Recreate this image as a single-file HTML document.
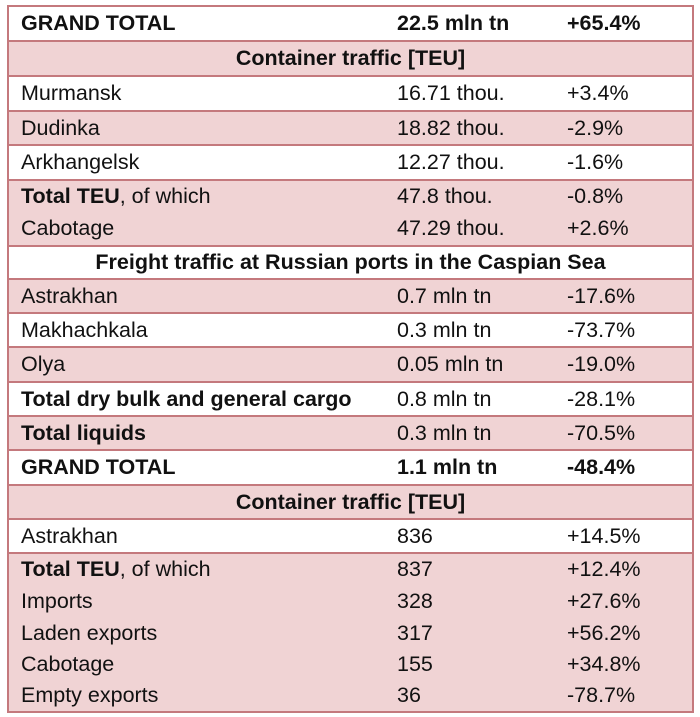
<!DOCTYPE html>
<html><head><meta charset="utf-8"><style>
body{margin:0;width:700px;height:717px;background:#fff;position:relative;font-family:"Liberation Sans",sans-serif;color:#111;overflow:hidden}
.tbl{position:absolute;left:7px;top:5px;width:683px;height:704px;border:2px solid #c4797d;box-sizing:content-box}
.r{position:absolute;left:0;width:683px;font-size:21.5px;display:flex;align-items:center}
.w{background:#fff}.p{background:#f0d3d4}
.bt{border-top:2px solid #c4797d;box-sizing:border-box}
.c1{position:absolute;left:12px}.c2{position:absolute;left:388px}.c3{position:absolute;left:558px}
.b{font-weight:bold}
.h{justify-content:center;font-weight:bold;width:683px}
</style></head><body>
<div class="tbl">
<div class="r w" style="top:0;height:33px"><span class="c1 b">GRAND TOTAL</span><span class="c2 b">22.5 mln tn</span><span class="c3 b">+65.4%</span></div>
<div class="r p bt h" style="top:33px;height:35px">Container traffic [TEU]</div>
<div class="r w bt" style="top:68px;height:35px"><span class="c1">Murmansk</span><span class="c2">16.71 thou.</span><span class="c3">+3.4%</span></div>
<div class="r p bt" style="top:103px;height:34px"><span class="c1">Dudinka</span><span class="c2">18.82 thou.</span><span class="c3">-2.9%</span></div>
<div class="r w bt" style="top:137px;height:35px"><span class="c1">Arkhangelsk</span><span class="c2">12.27 thou.</span><span class="c3">-1.6%</span></div>
<div class="r p bt" style="top:172px;height:33px"><span class="c1"><b>Total TEU</b>, of which</span><span class="c2">47.8 thou.</span><span class="c3">-0.8%</span></div>
<div class="r p" style="top:205px;height:33px"><span class="c1">Cabotage</span><span class="c2">47.29 thou.</span><span class="c3">+2.6%</span></div>
<div class="r w bt h" style="top:238px;height:33px">Freight traffic at Russian ports in the Caspian Sea</div>
<div class="r p bt" style="top:271px;height:34px"><span class="c1">Astrakhan</span><span class="c2">0.7 mln tn</span><span class="c3">-17.6%</span></div>
<div class="r w bt" style="top:305px;height:34px"><span class="c1">Makhachkala</span><span class="c2">0.3 mln tn</span><span class="c3">-73.7%</span></div>
<div class="r p bt" style="top:339px;height:35px"><span class="c1">Olya</span><span class="c2">0.05 mln tn</span><span class="c3">-19.0%</span></div>
<div class="r w bt" style="top:374px;height:34px"><span class="c1 b">Total dry bulk and general cargo</span><span class="c2">0.8 mln tn</span><span class="c3">-28.1%</span></div>
<div class="r p bt" style="top:408px;height:34px"><span class="c1 b">Total liquids</span><span class="c2">0.3 mln tn</span><span class="c3">-70.5%</span></div>
<div class="r w bt" style="top:442px;height:35px"><span class="c1 b">GRAND TOTAL</span><span class="c2 b">1.1 mln tn</span><span class="c3 b">-48.4%</span></div>
<div class="r p bt h" style="top:477px;height:34px">Container traffic [TEU]</div>
<div class="r w bt" style="top:511px;height:34px"><span class="c1">Astrakhan</span><span class="c2">836</span><span class="c3">+14.5%</span></div>
<div class="r p bt" style="top:545px;height:33px"><span class="c1"><b>Total TEU</b>, of which</span><span class="c2">837</span><span class="c3">+12.4%</span></div>
<div class="r p" style="top:578px;height:32px"><span class="c1">Imports</span><span class="c2">328</span><span class="c3">+27.6%</span></div>
<div class="r p" style="top:610px;height:32px"><span class="c1">Laden exports</span><span class="c2">317</span><span class="c3">+56.2%</span></div>
<div class="r p" style="top:642px;height:31px"><span class="c1">Cabotage</span><span class="c2">155</span><span class="c3">+34.8%</span></div>
<div class="r p" style="top:673px;height:31px"><span class="c1">Empty exports</span><span class="c2">36</span><span class="c3">-78.7%</span></div>
</div>
</body></html>
